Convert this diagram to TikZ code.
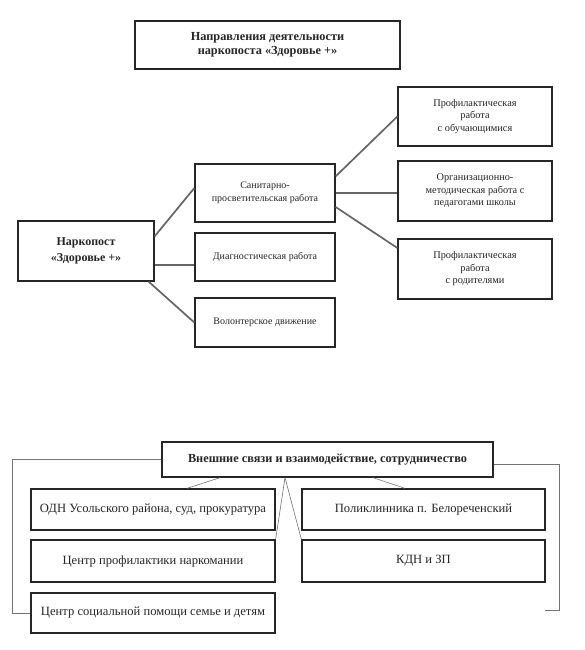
\documentclass[tikz,border=0pt]{standalone}
\usepackage{fontspec}
\setmainfont{Liberation Serif}
\usetikzlibrary{calc}
\begin{document}
\begin{tikzpicture}[x=1pt,y=-1pt,
  box/.style={draw=black!85,line width=1.3pt,rectangle,inner sep=2pt,align=center,text=black!85},
  midtxt/.style={font=\fontsize{10}{13}\selectfont},
  righttxt/.style={font=\fontsize{10.3}{12.5}\selectfont},
  bottxt/.style={font=\fontsize{12.6}{14}\selectfont},
  thick link/.style={draw=black!60,line width=1.7pt},
  thin link/.style={draw=black!55,line width=0.6pt}]
\fill[white] (0,0) rectangle (585,650);
\useasboundingbox (0,0) rectangle (585,650);
% top section
\node[box,minimum width=265pt,minimum height=48pt,font=\bfseries\fontsize{12.3}{14.5}\selectfont] (title) at (267.5,45) {Направления деятельности\\наркопоста «Здоровье +»};
\node[box,minimum width=136pt,minimum height=60pt,font=\bfseries\fontsize{12}{16}\selectfont] (nark) at (86,251) {Наркопост\\«Здоровье +»};
\node[box,midtxt,minimum width=140pt,minimum height=58pt] (san) at (265,193) {Санитарно-\\просветительская работа};
\node[box,midtxt,minimum width=140pt,minimum height=48pt] (diag) at (265,257) {Диагностическая работа};
\node[box,midtxt,minimum width=140pt,minimum height=49pt] (vol) at (265,322.5) {Волонтерское движение};
\node[box,righttxt,minimum width=154pt,minimum height=59pt] (r1) at (475,116.5) {Профилактическая\\работа\\с обучающимися};
\node[box,righttxt,minimum width=154pt,minimum height=60pt] (r2) at (475,191) {Организационно-\\методическая работа с\\педагогами школы};
\node[box,righttxt,minimum width=154pt,minimum height=60pt] (r3) at (475,269) {Профилактическая\\работа\\с родителями};
\draw[thick link] ([yshift=-16pt]nark.north east) -- ([yshift=5pt]san.west);
\draw[thick link] ([yshift=-14pt]nark.east) -- ([yshift=-8pt]diag.west);
\draw[thick link] ([xshift=-6pt]nark.south east) -- (vol.west);
\draw[thick link] ([yshift=-13pt]san.north east) -- (r1.west);
\draw[thick link] (san.east) -- (san.east -| r2.west);
\draw[thick link] ([yshift=-14pt]san.east) -- ([yshift=21pt]r3.west);
% bottom section
\node[box,minimum width=331pt,minimum height=35pt,font=\bfseries\fontsize{12.3}{14}\selectfont] (ext) at (327.5,459.5) {Внешние связи и взаимодействие, сотрудничество};
\node[box,bottxt,minimum width=244pt,minimum height=41pt] (odn) at (153,509.5) {ОДН Усольского района, суд, прокуратура};
\node[box,bottxt,minimum width=244pt,minimum height=42pt] (cpn) at (153,561) {Центр профилактики наркомании};
\node[box,bottxt,minimum width=244pt,minimum height=40pt] (csp) at (153,613) {Центр социальной помощи семье и детям};
\node[box,bottxt,minimum width=243pt,minimum height=41pt] (pol) at (423.5,509.5) {Поликлинника п. Белореченский};
\node[box,bottxt,minimum width=243pt,minimum height=42pt] (kdn) at (423.5,561) {КДН и ЗП};
\coordinate (rb) at (545,610);
\draw[thin link] ([xshift=-107.5pt]ext.south) -- ([xshift=34pt]odn.north);
\draw[thin link] ([xshift=-42.5pt]ext.south) -- (cpn.north east);
\draw[thin link] ([xshift=-42.5pt]ext.south) -- (kdn.north west);
\draw[thin link] ([xshift=45.5pt]ext.south) -- ([xshift=-18.5pt]pol.north);
\draw[thin link] (ext.west) -| ([xshift=-18pt]csp.west) -- (csp.west);
\draw[thin link] ([yshift=-4.5pt]ext.east) -| ([xshift=14pt]rb) -- (rb);
\end{tikzpicture}
\end{document}
